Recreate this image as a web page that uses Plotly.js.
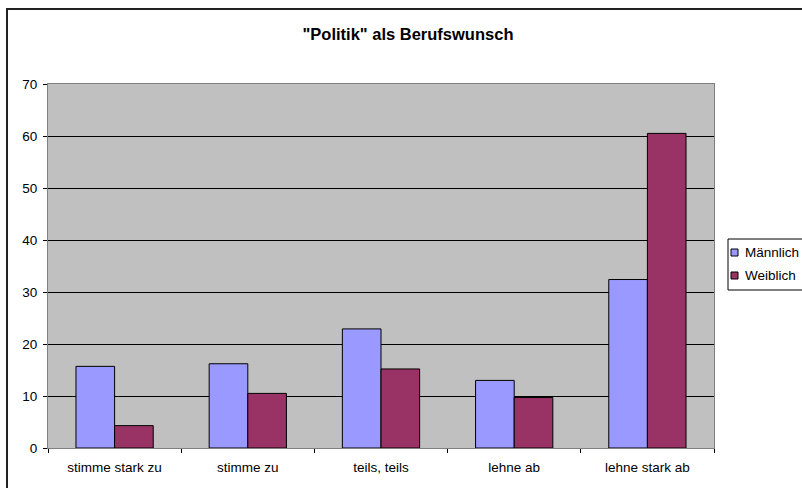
<!DOCTYPE html>
<html>
<head>
<meta charset="utf-8">
<script src="https://cdn.plot.ly/plotly-3.0.1.min.js"></script>
<style>
html,body{margin:0;padding:0;overflow:hidden;background:#fff;}
#wrap{position:relative;width:802px;height:488px;overflow:hidden;}
#chart{width:802px;height:488px;}
#frame{position:absolute;left:6px;top:8px;width:900px;height:600px;border:2px solid #222;pointer-events:none;box-sizing:border-box;}
</style>
</head>
<body>
<div id="wrap"><div id="chart"></div><div id="frame"></div></div>
<script>
const categories = ["stimme stark zu", "stimme zu", "teils, teils", "lehne ab", "lehne stark ab"];
const seriesNames = ["Männlich", "Weiblich"];
const seriesColors = ["#9999ff", "#993366"];
const maennlich = [15.7, 16.2, 22.9, 13.0, 32.4];
const weiblich = [4.3, 10.5, 15.2, 9.7, 60.5];
const yTicks = [0, 10, 20, 30, 40, 50, 60, 70];

const FF = "Liberation Sans, Arial, sans-serif";
const font = {family: FF, size: 13.5, color: "#000"};

const traces = [maennlich, weiblich].map((vals, i) => ({
  type: "bar", name: seriesNames[i], x: categories, y: vals,
  marker: {color: seriesColors[i], line: {color: "#000", width: 1}}, hoverinfo: "none", showlegend: false
}));

// plot area in pixels: x 48..714, y 84..448
const L = 48, R = 714, T = 84, B = 448;
const px = v => (v - L) / (R - L);
const py = v => (B - v) / (B - T);

const shapes = [
  {type: "rect", xref: "paper", yref: "paper", x0: px(728), x1: px(830), y0: py(290), y1: py(239),
   line: {color: "#000", width: 1}, fillcolor: "#fff", layer: "above"}
];
const annotations = [];
seriesNames.forEach((n, i) => {
  const cy = 252 + i * 23;
  shapes.push({type: "rect", xref: "paper", yref: "paper", x0: px(731), x1: px(738), y0: py(cy + 4), y1: py(cy - 3),
               line: {color: "#000", width: 1}, fillcolor: seriesColors[i], layer: "above"});
  annotations.push({xref: "paper", yref: "paper", x: px(743), y: py(cy), xanchor: "left", yanchor: "middle",
                    text: n, showarrow: false, font: font});
});

const layout = {
  width: 802, height: 488,
  margin: {l: L, r: 802 - R, t: T, b: 488 - B, autoexpand: false},
  paper_bgcolor: "#fff",
  plot_bgcolor: "#c0c0c0",
  font: font,
  barmode: "group",
  bargap: 0.42,
  bargroupgap: 0,
  showlegend: false,
  title: {text: "\"Politik\" als Berufswunsch", font: {family: FF, size: 16.5, color: "#000", weight: "bold"},
          xref: "container", x: 408/802, xanchor: "center", yref: "container", y: 1 - 34/488, yanchor: "middle"},
  xaxis: {type: "category", tickson: "boundaries", ticks: "outside", ticklen: 4, tickcolor: "#000",
          showline: true, linecolor: "#808080", linewidth: 1, mirror: true, showgrid: false,
          tickfont: font, ticklabelstandoff: 7, fixedrange: true},
  yaxis: {range: [0, 70], tickvals: yTicks, ticktext: yTicks.map(String), ticks: "outside", ticklen: 4, tickcolor: "#000",
          showline: true, linecolor: "#808080", linewidth: 1, mirror: true,
          showgrid: true, gridcolor: "#000", gridwidth: 1, zeroline: false, tickfont: font,
          ticklabelstandoff: 3, fixedrange: true},
  shapes: shapes,
  annotations: annotations
};

Plotly.newPlot("chart", traces, layout, {displayModeBar: false, staticPlot: true});
</script>
</body>
</html>
